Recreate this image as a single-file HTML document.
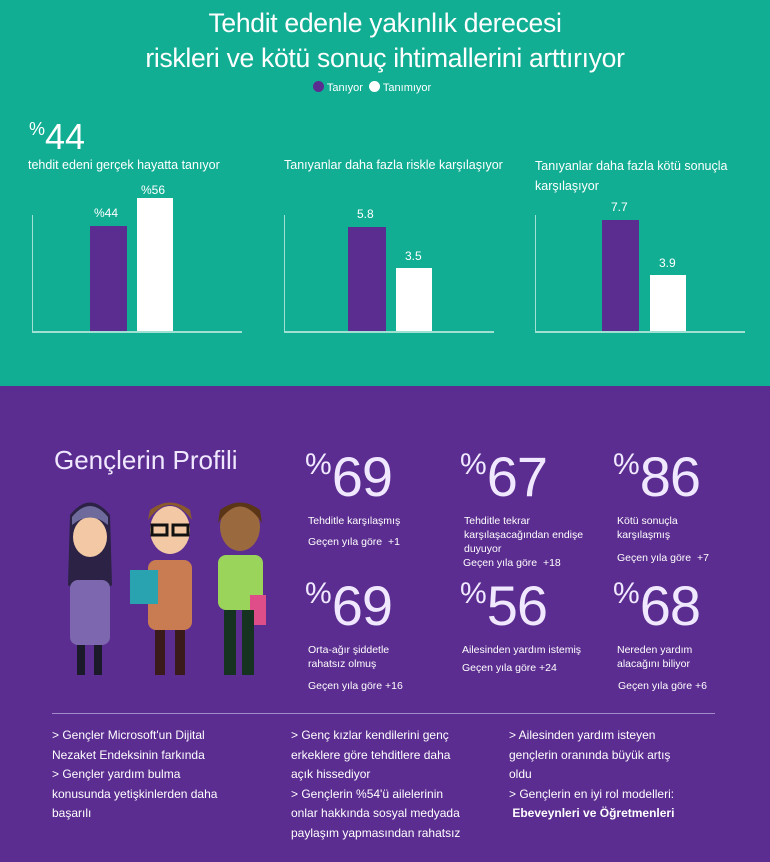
<!DOCTYPE html>
<html><head><meta charset="utf-8"><style>
*{margin:0;padding:0;box-sizing:border-box}
body{width:770px;height:862px;overflow:hidden;font-family:"Liberation Sans",sans-serif;color:#fff;position:relative;background:#5b2d90}
.t{position:absolute;white-space:nowrap}
#top{position:absolute;left:0;top:0;width:770px;height:386px;background:#12ae94}
.bar{position:absolute}
.p{background:#5b2d90}.w{background:#fff}
.ax{position:absolute;background:#9fe0d2}
.big{font-size:56px;font-weight:300;letter-spacing:-1px;color:#f0e8ff}
.big span{font-size:30px;vertical-align:22px;margin-right:1px}
.s{font-size:10.5px;line-height:14px;white-space:normal}
.g{font-size:10.5px}
.bt{font-size:12px;line-height:19.5px}
</style></head><body>
<div id="top">
<div class="t" style="left:0;width:770px;text-align:center;top:6px;font-size:26.5px;line-height:35px;letter-spacing:-0.3px">Tehdit edenle yakınlık derecesi<br>riskleri ve kötü sonuç ihtimallerini arttırıyor</div>
<div class="t" style="left:313px;top:81px;font-size:11px"><span style="display:inline-block;width:11px;height:11px;border-radius:50%;background:#5b2d90;vertical-align:-1px"></span> Tanıyor &nbsp;<span style="display:inline-block;width:11px;height:11px;border-radius:50%;background:#fff;vertical-align:-1px"></span> Tanımıyor</div>
<div class="t" style="left:29px;top:116px;font-size:36px;font-weight:300"><span style="font-size:18px;vertical-align:14px">%</span>44</div>
<div class="t" style="left:28px;top:158px;font-size:12.5px">tehdit edeni gerçek hayatta tanıyor</div>
<div class="t" style="left:284px;top:158px;font-size:12.5px">Tanıyanlar daha fazla riskle karşılaşıyor</div>
<div class="t" style="left:535px;top:156px;font-size:12.5px;line-height:20px">Tanıyanlar daha fazla kötü sonuçla<br>karşılaşıyor</div>
<div class="ax" style="left:32px;top:215px;width:1px;height:117px"></div>
<div class="ax" style="left:32px;top:331px;width:210px;height:2px"></div>
<div class="ax" style="left:284px;top:215px;width:1px;height:117px"></div>
<div class="ax" style="left:284px;top:331px;width:210px;height:2px"></div>
<div class="ax" style="left:535px;top:215px;width:1px;height:117px"></div>
<div class="ax" style="left:535px;top:331px;width:210px;height:2px"></div>
<div class="bar p" style="left:90px;top:226px;width:37px;height:105px"></div>
<div class="bar w" style="left:137px;top:198px;width:36px;height:133px"></div>
<div class="bar p" style="left:348px;top:227px;width:38px;height:104px"></div>
<div class="bar w" style="left:396px;top:268px;width:36px;height:63px"></div>
<div class="bar p" style="left:602px;top:220px;width:37px;height:111px"></div>
<div class="bar w" style="left:650px;top:275px;width:36px;height:56px"></div>
<div class="t" style="left:94px;top:206px;font-size:12px">%44</div>
<div class="t" style="left:141px;top:183px;font-size:12px">%56</div>
<div class="t" style="left:357px;top:207px;font-size:12px">5.8</div>
<div class="t" style="left:405px;top:249px;font-size:12px">3.5</div>
<div class="t" style="left:611px;top:200px;font-size:12px">7.7</div>
<div class="t" style="left:659px;top:256px;font-size:12px">3.9</div>
</div>
<div class="t" style="left:54px;top:445px;font-size:26px;font-weight:300;color:#f0e8ff">Gençlerin Profili</div>
<div class="t big" style="left:305px;top:444px"><span>%</span>69</div>
<div class="t big" style="left:460px;top:444px"><span>%</span>67</div>
<div class="t big" style="left:613px;top:444px"><span>%</span>86</div>
<div class="t s" style="left:308px;top:514px;width:140px">Tehditle karşılaşmış</div>
<div class="t g" style="left:308px;top:536px">Geçen yıla göre &nbsp;+1</div>
<div class="t s" style="left:464px;top:514px;width:140px">Tehditle tekrar karşılaşacağından endişe duyuyor</div>
<div class="t g" style="left:463px;top:557px">Geçen yıla göre &nbsp;+18</div>
<div class="t s" style="left:617px;top:514px;width:120px">Kötü sonuçla<br>karşılaşmış</div>
<div class="t g" style="left:617px;top:552px">Geçen yıla göre &nbsp;+7</div>
<div class="t big" style="left:305px;top:573px"><span>%</span>69</div>
<div class="t big" style="left:460px;top:573px"><span>%</span>56</div>
<div class="t big" style="left:613px;top:573px"><span>%</span>68</div>
<div class="t s" style="left:308px;top:643px;width:140px">Orta-ağır şiddetle<br>rahatsız olmuş</div>
<div class="t g" style="left:308px;top:680px">Geçen yıla göre +16</div>
<div class="t s" style="left:462px;top:643px;width:150px">Ailesinden yardım istemiş</div>
<div class="t g" style="left:462px;top:662px">Geçen yıla göre +24</div>
<div class="t s" style="left:617px;top:643px;width:120px">Nereden yardım<br>alacağını biliyor</div>
<div class="t g" style="left:618px;top:680px">Geçen yıla göre +6</div>
<svg style="position:absolute;left:50px;top:495px" width="220" height="190">
<g><path d="M20 20 Q40 -5 60 20 L62 90 Q40 110 18 90Z" fill="#2b2245"/><ellipse cx="40" cy="42" rx="17" ry="20" fill="#f2c9a4"/><path d="M22 22 Q40 0 58 22 L58 30 Q40 15 22 30Z" fill="#6e6a9c"/><rect x="20" y="85" width="40" height="65" rx="8" fill="#7d68b0"/><rect x="27" y="150" width="8" height="30" fill="#1a1a2a"/><rect x="44" y="150" width="8" height="30" fill="#1a1a2a"/></g>
<g transform="translate(80,0)"><ellipse cx="40" cy="35" rx="20" ry="24" fill="#f2c9a4"/><path d="M18 25 Q40 -5 62 25 L60 15 Q40 0 20 15Z" fill="#8b5a2b"/><rect x="22" y="30" width="15" height="10" fill="none" stroke="#111" stroke-width="3"/><rect x="43" y="30" width="15" height="10" fill="none" stroke="#111" stroke-width="3"/><rect x="18" y="65" width="44" height="70" rx="8" fill="#c97b52"/><rect x="0" y="75" width="28" height="34" fill="#2aa3b0"/><rect x="25" y="135" width="10" height="45" fill="#3a1a1a"/><rect x="45" y="135" width="10" height="45" fill="#3a1a1a"/></g>
<g transform="translate(160,0)"><ellipse cx="30" cy="32" rx="20" ry="24" fill="#9a6a3e"/><path d="M8 28 Q30 -5 52 28 L50 15 Q30 0 10 15Z" fill="#5a3516"/><rect x="8" y="60" width="45" height="55" rx="8" fill="#9bd45a"/><rect x="40" y="100" width="16" height="30" fill="#e04e8a"/><rect x="14" y="115" width="12" height="65" fill="#163322"/><rect x="32" y="115" width="12" height="65" fill="#163322"/></g>
</svg>
<div style="position:absolute;left:52px;top:713px;width:663px;height:1px;background:#a28bc9"></div>
<div class="t bt" style="left:52px;top:726px">&gt; Gençler Microsoft'un Dijital<br>Nezaket Endeksinin farkında<br>&gt; Gençler yardım bulma<br>konusunda yetişkinlerden daha<br>başarılı</div>
<div class="t bt" style="left:291px;top:726px">&gt; Genç kızlar kendilerini genç<br>erkeklere göre tehditlere daha<br>açık hissediyor<br>&gt; Gençlerin %54'ü ailelerinin<br>onlar hakkında sosyal medyada<br>paylaşım yapmasından rahatsız</div>
<div class="t bt" style="left:509px;top:726px">&gt; Ailesinden yardım isteyen<br>gençlerin oranında büyük artış<br>oldu<br>&gt; Gençlerin en iyi rol modelleri:<br>&nbsp;<b>Ebeveynleri ve Öğretmenleri</b></div>
</body></html>
